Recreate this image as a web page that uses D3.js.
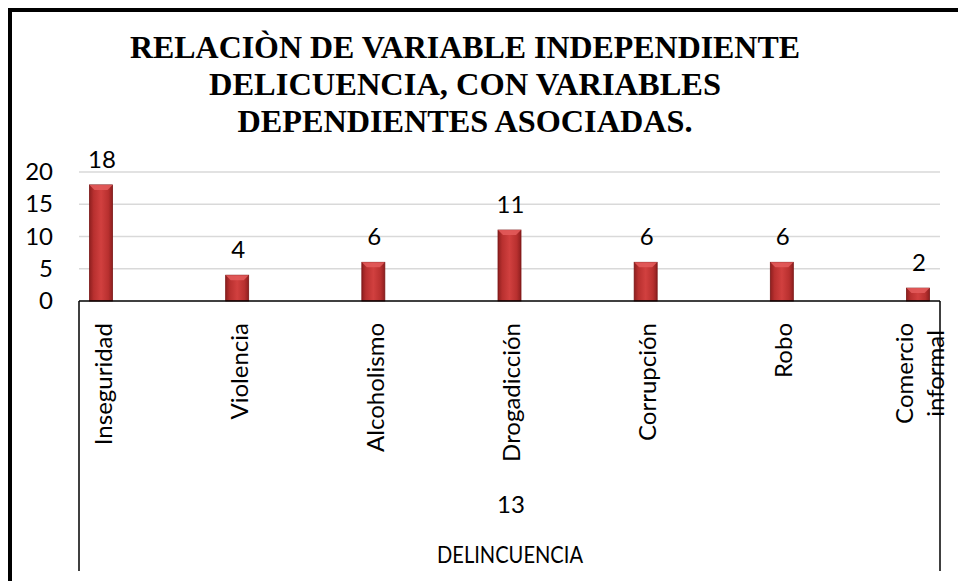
<!DOCTYPE html>
<html>
<head>
<meta charset="utf-8">
<script src="https://cdn.jsdelivr.net/npm/d3@7"></script>
<style>
  html, body { margin: 0; padding: 0; background: #fff; }
  svg { display: block; }
</style>
</head>
<body>
<svg id="chart" width="958" height="581"></svg>
<script>
const titleLines = ["RELACIÒN DE VARIABLE INDEPENDIENTE", "DELICUENCIA, CON VARIABLES", "DEPENDIENTES ASOCIADAS."];
const categories = ["Inseguridad", "Violencia", "Alcoholismo", "Drogadicción", "Corrupción", "Robo", "Comercio informal"];
const values = [18, 4, 6, 11, 6, 6, 2];
const yTicks = [0, 5, 10, 15, 20];
const groupLabel = "13";
const outerLabel = "DELINCUENCIA";

const svg = d3.select("#chart");
const font = "Lato, 'Open Sans', sans-serif";
const fs = 24;

// outer frame
svg.append("rect").attr("x", 0).attr("y", 0).attr("width", 958).attr("height", 581).attr("fill", "#fff");
svg.append("line").attr("x1", 8).attr("x2", 958).attr("y1", 10).attr("y2", 10).attr("stroke", "#000").attr("stroke-width", 4);
svg.append("line").attr("x1", 10).attr("x2", 10).attr("y1", 8).attr("y2", 581).attr("stroke", "#000").attr("stroke-width", 4);

// title
const titleWidths = [670, 512, 455];
titleLines.forEach((t, i) => {
  svg.append("text").attr("text-anchor", "middle")
    .style("font-family", "'Times New Roman', Times, 'Nimbus Roman', 'Nimbus Roman No9 L', FreeSerif, 'Noto Serif', 'Liberation Serif', 'DejaVu Serif', Georgia, serif")
    .style("font-weight", "700")
    .attr("font-size", 31).attr("fill", "#000")
    .attr("x", 465).attr("y", 58 + i * 37)
    .attr("textLength", titleWidths[i]).attr("lengthAdjust", "spacingAndGlyphs")
    .text(t);
});

const plotLeft = 79, plotRight = 940, plotTop = 172, plotBottom = 301;
const y = d3.scaleLinear().domain([0, 20]).range([plotBottom, plotTop]);
const x = d3.scalePoint().domain(categories).range([101, 918]);
const barW = 23;

// gridlines
svg.append("g").selectAll("line").data(yTicks.filter(d => d > 0)).join("line")
  .attr("x1", plotLeft).attr("x2", plotRight)
  .attr("y1", d => y(d)).attr("y2", d => y(d))
  .attr("stroke", "#d9d9d9").attr("stroke-width", 1.5);

// y axis labels
const yAxis = d3.axisLeft(y).tickValues(yTicks).tickSize(0).tickPadding(0);
const gy = svg.append("g").attr("transform", "translate(53,0)").call(yAxis);
gy.select(".domain").remove();
gy.selectAll("text").attr("font-family", font).attr("font-size", fs).attr("fill", "#000");

// gradients
const defs = svg.append("defs");
const grad = defs.append("linearGradient").attr("id", "barGrad").attr("x1", "0").attr("x2", "1").attr("y1", "0").attr("y2", "0");
grad.append("stop").attr("offset", "0%").attr("stop-color", "#8e1f1f");
grad.append("stop").attr("offset", "18%").attr("stop-color", "#b8302f");
grad.append("stop").attr("offset", "50%").attr("stop-color", "#d1403f");
grad.append("stop").attr("offset", "82%").attr("stop-color", "#b8302f");
grad.append("stop").attr("offset", "100%").attr("stop-color", "#8e1f1f");

// bars
const bars = svg.append("g");
bars.selectAll("rect").data(values).join("rect")
  .attr("x", (d, i) => x(categories[i]) - barW / 2)
  .attr("y", d => y(d))
  .attr("width", barW)
  .attr("height", d => y(0) - y(d))
  .attr("fill", "url(#barGrad)")
  .attr("stroke", "#7a1515").attr("stroke-width", 0.8);
// top bevel
bars.selectAll("path").data(values).join("path")
  .attr("d", (d, i) => {
    const cx = x(categories[i]), top = y(d);
    return `M${cx - barW / 2},${top} L${cx + barW / 2},${top} L${cx + barW / 2 - 5},${top + 5} L${cx - barW / 2 + 5},${top + 5} Z`;
  })
  .attr("fill", "#e25a5a").attr("opacity", 0.9);

// data labels
svg.append("g").selectAll("text").data(values).join("text")
  .attr("x", (d, i) => x(categories[i]) + 1)
  .attr("y", d => y(d) - 17)
  .attr("text-anchor", "middle")
  .attr("font-family", font).attr("font-size", fs).attr("fill", "#000")
  .text(d => d);

// axis lines
const axisG = svg.append("g").attr("stroke", "#000").attr("stroke-width", 1.5);
axisG.append("line").attr("x1", plotLeft).attr("x2", plotRight).attr("y1", plotBottom).attr("y2", plotBottom);
axisG.append("line").attr("x1", plotLeft).attr("x2", plotLeft).attr("y1", plotBottom).attr("y2", 571);
axisG.append("line").attr("x1", plotRight).attr("x2", plotRight).attr("y1", plotBottom).attr("y2", 571);

// category labels (rotated)
const catG = svg.append("g");
categories.forEach((c, i) => {
  const words = c.split(" ");
  const lines = words.length > 1 ? words : [c];
  const cx = x(c) + 1;
  const lh = 31;
  const n = lines.length;
  const g = catG.append("g");
  const texts = lines.map((ln, j) => {
    const off = (j - (n - 1) / 2) * lh;
    return g.append("text")
      .attr("transform", `translate(${cx + off},323) rotate(-90)`)
      .attr("text-anchor", "end")
      .attr("dominant-baseline", "central")
      .attr("font-family", font).attr("font-size", fs).attr("fill", "#000")
      .text(ln);
  });
  if (n > 1) {
    const widths = texts.map(t => t.node().getComputedTextLength());
    const maxW = d3.max(widths);
    texts.forEach((t, j) => {
      const off = (j - (n - 1) / 2) * lh;
      const shift = (maxW - widths[j]) / 2;
      t.attr("transform", `translate(${cx + off},${323 + shift}) rotate(-90)`);
    });
  }
});

// group labels
svg.append("text").attr("x", 511).attr("y", 503).attr("text-anchor", "middle")
  .attr("dominant-baseline", "central")
  .attr("font-family", font).attr("font-size", fs).attr("fill", "#000").text(groupLabel);
svg.append("text").attr("x", 510).attr("y", 553).attr("text-anchor", "middle")
  .attr("dominant-baseline", "central")
  .attr("textLength", 146).attr("lengthAdjust", "spacingAndGlyphs")
  .attr("font-family", font).attr("font-size", 24).attr("fill", "#000").text(outerLabel);
</script>
</body>
</html>
